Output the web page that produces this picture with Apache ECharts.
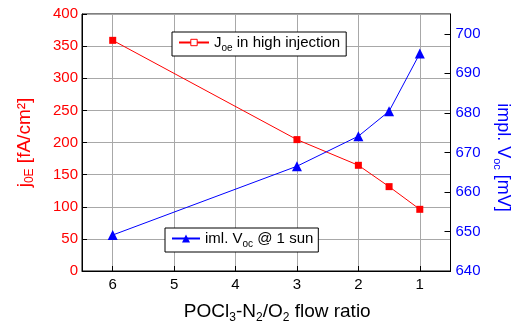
<!DOCTYPE html>
<html><head><meta charset="utf-8">
<script src="https://cdn.jsdelivr.net/npm/echarts@6/dist/echarts.min.js"></script>
<style>html,body{margin:0;padding:0;background:#fff}#c{width:520px;height:329px}</style>
</head><body><div id="c"></div>
<script>
var flowRatio = [6, 3, 2, 1.5, 1];
var j0E = [359, 204.5, 164.5, 131.3, 96];
var implVoc = [649.1, 666.5, 674.1, 680.4, 695];
var xTicks = [1, 2, 3, 4, 5, 6];

var FONT = 'Liberation Sans, Arial, sans-serif';
var chart = echarts.init(document.getElementById('c'));
function pairs(xs, ys){ return xs.map(function(x,i){return [x, ys[i]];}); }
var gridColor = '#a8a8a8';
chart.setOption({
  animation: false,
  textStyle: {fontFamily: FONT},
  grid: {left: 82, right: 68, top: 14, bottom: 57, show: true, borderColor: '#000', borderWidth: 1, containLabel: false},
  xAxis: {
    type: 'value', inverse: true, min: 0.5, max: 6.5,
    name: 'POCl{s|3}-N{s|2}/O{s|2} flow ratio', nameLocation: 'middle', nameGap: 28,
    nameTextStyle: {fontSize: 19, color: '#000', fontFamily: FONT, padding: [0, 0, 0, 22],
      rich: {s: {fontSize: 12, padding: [13,0,0,0], fontFamily: FONT, color:'#000'}}},
    axisLine: {show: true, lineStyle: {color: '#000', width: 1}},
    axisTick: {show: true, inside: true, length: 5, customValues: xTicks, lineStyle: {color: '#000'}},
    axisLabel: {customValues: xTicks, fontSize: 15, color: '#000', margin: 6, fontFamily: FONT},
    splitLine: {show: true, customValues: xTicks, lineStyle: {color: gridColor, width: 1}}
  },
  yAxis: [{
    type: 'value', min: 0, max: 400, interval: 50, position: 'left',
    name: 'j{s|0E} [fA/cm²]', nameLocation: 'middle', nameGap: 46, nameRotate: 90,
    nameTextStyle: {fontSize: 19, color: '#ff0000', fontFamily: FONT,
      rich: {s: {fontSize: 12, padding: [11,0,0,0], color: '#ff0000', fontFamily: FONT}}},
    axisLine: {show: true, lineStyle: {color: '#000'}},
    axisTick: {show: true, inside: true, length: 5, lineStyle: {color: '#000'}},
    axisLabel: {fontSize: 15, color: '#ff0000', margin: 4, fontFamily: FONT},
    splitLine: {show: true, lineStyle: {color: gridColor, width: 1}}
  }, {
    type: 'value', min: 640, max: 705, interval: 10, position: 'right',
    name: 'impl. V{s|oc} [mV]', nameLocation: 'middle', nameGap: 41, nameRotate: -90,
    nameTextStyle: {fontSize: 18, color: '#0000ff', fontFamily: FONT, padding: [0, 0, 0, 30],
      rich: {s: {fontSize: 11, padding: [12,0,0,0], color: '#0000ff', fontFamily: FONT}}},
    axisLine: {show: true, lineStyle: {color: '#000'}},
    axisTick: {show: true, inside: true, length: 6, lineStyle: {color: '#000'}},
    axisLabel: {fontSize: 15, color: '#0000ff', margin: 5, fontFamily: FONT, showMaxLabel: false},
    splitLine: {show: false}
  }],
  legend: [{
    data: [{name: 'J{s|oe} in high injection', itemStyle: {color: '#fff', borderColor: '#ff0000', borderWidth: 1}}],
    left: 172, top: 32, orient: 'horizontal',
    padding: [3, 6, 3, 6], itemWidth: 30, itemHeight: 8, itemGap: 4,
    borderColor: '#000', borderWidth: 1, backgroundColor: '#fff',
    textStyle: {fontSize: 15, color: '#000', fontFamily: FONT, rich: {s: {fontSize: 10, padding: [11,0,0,0], color: '#000', fontFamily: FONT}}}
  }, {
    data: ['iml. V{s|oc} @ 1 sun'],
    left: 165, top: 228, orient: 'horizontal',
    padding: [3, 5, 3, 6], itemWidth: 28, itemHeight: 10, itemGap: 4,
    borderColor: '#000', borderWidth: 1, backgroundColor: '#fff',
    textStyle: {fontSize: 15, color: '#000', fontFamily: FONT, rich: {s: {fontSize: 10, padding: [11,0,0,0], color: '#000', fontFamily: FONT}}}
  }],
  series: [{
    name: 'J{s|oe} in high injection', type: 'line', yAxisIndex: 0,
    data: pairs(flowRatio, j0E), symbol: 'rect', symbolSize: 7,
    lineStyle: {color: '#ff0000', width: 1}, itemStyle: {color: '#ff0000'}
  }, {
    name: 'iml. V{s|oc} @ 1 sun', type: 'line', yAxisIndex: 1,
    data: pairs(flowRatio, implVoc), symbol: 'triangle', symbolSize: 10,
    lineStyle: {color: '#0000ff', width: 1}, itemStyle: {color: '#0000ff'}
  }]
});
</script></body></html>
